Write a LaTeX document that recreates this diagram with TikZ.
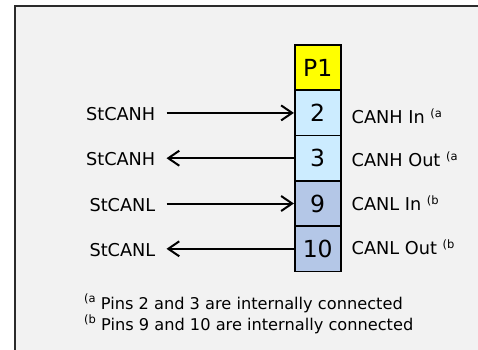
\documentclass[tikz,border=0pt]{standalone}
\usepackage{fontspec}
\setmainfont{DejaVu Sans}
\usetikzlibrary{arrows.meta}

\definecolor{panel}{HTML}{F2F2F2}
\definecolor{framec}{HTML}{2B2B2B}
\definecolor{pinhead}{HTML}{FFFF00}
\definecolor{canhcell}{HTML}{CCECFF}
\definecolor{canlcell}{HTML}{B4C7E7}

% small raised footnote mark, e.g. "(a"
\newcommand\fnmark[2]{\raisebox{#1}{\fontsize{11.5}{13}\selectfont(#2}}

\begin{document}
\begin{tikzpicture}[x=1pt,y=-1pt,
  cell/.style={draw=black, line width=1.6pt, minimum width=46pt,
    minimum height=45.3pt, inner sep=0pt, font=\fontsize{23.5}{27}\selectfont},
  sig/.style={inner sep=0pt, font=\fontsize{17.7}{21}\selectfont},
  note/.style={inner sep=0pt, anchor=base west, font=\fontsize{16.2}{19}\selectfont},
  wire/.style={line width=2pt,
    -{Straight Barb[length=11pt, width=15pt, line width=2pt]}},
]
\useasboundingbox (0,0) rectangle (478,349);
\fill[white] (0,0) rectangle (478,349);
\begin{scope}
  \clip (0,0) rectangle (478,349);
  \draw[framec, fill=panel, line width=2pt] (14.5,6) rectangle (500,370);
\end{scope}

% connector P1 and its pins
\node[cell, fill=pinhead]  (p1)  at (317.7,67.6)  {P1};
\node[cell, fill=canhcell] (c2)  at (317.7,112.9) {2};
\node[cell, fill=canhcell] (c3)  at (317.7,158.2) {3};
\node[cell, fill=canlcell] (c9)  at (317.7,203.5) {9};
\node[cell, fill=canlcell] (c10) at (317.7,248.8) {10};

% signal names on the left
\node[sig, anchor=base east] (l1) at (155.5,120.4) {StCANH};
\node[sig, anchor=base east] (l2) at (155.5,165.7) {StCANH};
\node[sig, anchor=base east] (l3) at (155.5,211.0) {StCANL};
\node[sig, anchor=base east] (l4) at (155.5,256.3) {StCANL};

% free ends of the wires
\coordinate (s1) at (166.5,112.9);
\coordinate (s2) at (166.5,158.2);
\coordinate (s3) at (166.5,203.5);
\coordinate (s4) at (166.5,248.8);

\draw[wire] (s1) -- (c2.west);
\draw[wire] (c3.west) -- (s2);
\draw[wire] (s3) -- (c9.west);
\draw[wire] (c10.west) -- (s4);

% pin functions on the right
\node[sig, anchor=base west] (r1) at (351.5,123.3) {CANH In \fnmark{5.5pt}{a}};
\node[sig, anchor=base west] (r2) at (351.5,166.0) {CANH Out \fnmark{5.5pt}{a}};
\node[sig, anchor=base west] (r3) at (351.5,210.0) {CANL In \fnmark{5.5pt}{b}};
\node[sig, anchor=base west] (r4) at (351.5,254.0) {CANL Out \fnmark{5.5pt}{b}};

% footnotes
\node[note] (n1) at (84,309) {\fnmark{7pt}{a} Pins 2 and 3 are internally connected};
\node[note] (n2) at (84,330) {\fnmark{7pt}{b} Pins 9 and 10 are internally connected};
\end{tikzpicture}
\end{document}
